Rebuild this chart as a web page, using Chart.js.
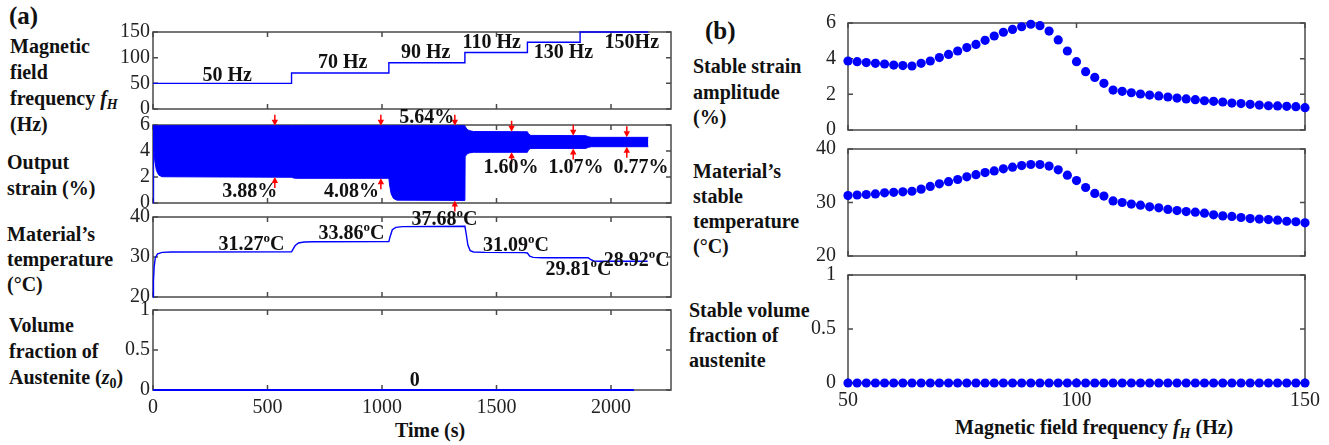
<!DOCTYPE html>
<html>
<head>
<meta charset="utf-8">
<script src="https://cdn.jsdelivr.net/npm/chart.js@4.4.1/dist/chart.umd.min.js"></script>
<style>
  body { margin: 0; background: #fff; width: 1329px; height: 445px; overflow: hidden; position: relative; font-family: "Liberation Serif", serif; }
  canvas { position: absolute; }
  .lbl { position: absolute; font-weight: bold; font-size: 20px; color: #111; white-space: nowrap; }
  .lbl sub { font-size: 14px; vertical-align: -0.3em; line-height: 0; }
</style>
</head>
<body>
<!-- panel (a) side labels -->
<div class="lbl" style="left:9px;top:1px;font-size:25px;line-height:30px">(a)</div>
<div class="lbl" style="left:10px;top:33px;line-height:26px">Magnetic<br>field<br>frequency <i>f</i><sub><i>H</i></sub><br>(Hz)</div>
<div class="lbl" style="left:7px;top:149px;line-height:26px">Output<br>strain (%)</div>
<div class="lbl" style="left:7px;top:222px;line-height:25px">Material’s<br>temperature<br>(°C)</div>
<div class="lbl" style="left:9px;top:312px;line-height:26px">Volume<br>fraction of<br>Austenite (<i>z</i><sub>0</sub>)</div>
<div class="lbl" style="left:395px;top:418px;line-height:24px">Time (s)</div>

<!-- panel (b) side labels -->
<div class="lbl" style="left:705px;top:16px;font-size:25px;line-height:30px">(b)</div>
<div class="lbl" style="left:693px;top:54px;line-height:25.5px">Stable strain<br>amplitude<br>(%)</div>
<div class="lbl" style="left:693px;top:159px;line-height:25px">Material’s<br>stable<br>temperature<br>(°C)</div>
<div class="lbl" style="left:689px;top:298px;line-height:25px">Stable volume<br>fraction of<br>austenite</div>
<div class="lbl" style="left:955px;top:415px;line-height:24px">Magnetic field frequency <i>f</i><sub><i>H</i></sub> (Hz)</div>

<canvas id="aFreq"></canvas>
<canvas id="aStrain"></canvas>
<canvas id="aTemp"></canvas>
<canvas id="aVol"></canvas>
<canvas id="bAmp"></canvas>
<canvas id="bTemp"></canvas>
<canvas id="bVol"></canvas>

<script>
/* (a) time histories */
const stageStart = [0, 605, 1030, 1362, 1635, 1865];
const stageFreq = [50, 70, 90, 110, 130, 150];
const runEnd = 2163;

const strainTime  = [0, 3, 8, 15, 25, 40, 605, 612, 625, 1030, 1033, 1040, 1050, 1065, 1362, 1363, 1370, 1380, 1400, 1635, 1640, 1650, 1890, 1900, 1915, 2163];
const strainUpper = [5.95, 5.95, 5.95, 5.95, 5.95, 5.95, 5.95, 5.95, 5.95, 5.95, 5.95, 5.95, 5.95, 5.95, 5.95, 5.9, 5.7, 5.57, 5.5, 5.48, 5.3, 5.2, 5.18, 5.1, 5.05, 5.05];
const strainLower = [0, 4.6, 3.2, 2.5, 2.15, 2.02, 1.98, 1.93, 1.9, 1.9, 1.4, 0.7, 0.35, 0.22, 0.2, 3.55, 3.75, 3.85, 3.9, 3.9, 4.1, 4.2, 4.2, 4.28, 4.33, 4.33];

const arrowTime   = [532, 995, 1318, 1566, 1835, 2069];
const arrowTop    = [5.95, 5.95, 5.95, 5.48, 5.18, 5.05];
const arrowBottom = [2.0, 1.9, 0.2, 3.9, 4.2, 4.33];

const tempTime  = [0, 2, 5, 10, 20, 40, 80, 605, 610, 620, 635, 660, 700, 1030, 1035, 1045, 1060, 1090, 1362, 1367, 1375, 1385, 1400, 1450, 1620, 1635, 1645, 1660, 1700, 1900, 1910, 1925, 1950, 2160];
const tempValue = [20, 24, 27.5, 29.8, 30.8, 31.15, 31.25, 31.27, 31.8, 32.8, 33.5, 33.75, 33.82, 33.86, 35, 36.8, 37.4, 37.6, 37.68, 36, 33, 31.6, 31.25, 31.15, 31.09, 31.0, 30.2, 29.9, 29.82, 29.81, 29.4, 29.0, 28.93, 28.92];

const volTime = [0, 2100];
const volFrac = [0, 0];

/* (b) stable values vs frequency */
const freqB = [50, 52, 54, 56, 58, 60, 62, 64, 66, 68, 70, 72, 74, 76, 78, 80, 82, 84, 86, 88, 90, 92, 94, 96, 98, 100,
  102, 104, 106, 108, 110, 112, 114, 116, 118, 120, 122, 124, 126, 128, 130, 132, 134, 136, 138, 140, 142, 144, 146, 148, 150];
const ampB = [3.87, 3.83, 3.78, 3.74, 3.70, 3.64, 3.61, 3.59, 3.74, 3.87, 4.06, 4.24, 4.43, 4.62, 4.80, 5.03, 5.27, 5.48, 5.64, 5.79,
  5.93, 5.85, 5.55, 5.05, 4.43, 3.83, 3.27, 2.95, 2.62, 2.24, 2.17, 2.09, 2.02, 1.96, 1.91, 1.85, 1.79, 1.74, 1.70, 1.64,
  1.61, 1.57, 1.51, 1.48, 1.44, 1.40, 1.36, 1.35, 1.33, 1.31, 1.25];
const tempB = [31.3, 31.4, 31.5, 31.6, 31.8, 31.9, 32.0, 32.1, 32.5, 33.0, 33.5, 33.9, 34.3, 34.8, 35.2, 35.6, 35.9, 36.3, 36.6, 36.9,
  37.1, 37.1, 36.8, 36.1, 35.1, 34.1, 32.8, 31.7, 31.2, 30.3, 30.0, 29.7, 29.5, 29.2, 29.0, 28.7, 28.5, 28.3, 28.2, 28.0,
  27.7, 27.5, 27.4, 27.2, 27.0, 26.9, 26.8, 26.7, 26.5, 26.4, 26.2];
const volB = [0, 0, 0, 0, 0, 0, 0, 0, 0, 0, 0, 0, 0, 0, 0, 0, 0, 0, 0, 0, 0, 0, 0, 0, 0, 0,
  0, 0, 0, 0, 0, 0, 0, 0, 0, 0, 0, 0, 0, 0, 0, 0, 0, 0, 0, 0, 0, 0, 0, 0, 0];

/* tick labels */
const timeTicks = [0, 500, 1000, 1500, 2000];
const freqAxisTicks = [0, 50, 100, 150];
const strainTicks = [0, 2, 4, 6];
const tempTicks = [20, 30, 40];
const volTicks = [0, 0.5, 1];
const freqBTicks = [50, 100, 150];

const BLUE = '#0000ff';
const FONT = '"Liberation Serif"';

const pts = (xs, ys) => xs.map((x, i) => ({x: x, y: ys[i]}));

function drawArrow(ctx, px, tip, dir) {
  const len = 11, head = 5, hw = 3.2;
  ctx.strokeStyle = ctx.fillStyle = '#ff0000';
  ctx.lineWidth = 1.5;
  ctx.beginPath();
  ctx.moveTo(px, tip - dir * len);
  ctx.lineTo(px, tip - dir * head);
  ctx.stroke();
  ctx.beginPath();
  ctx.moveTo(px, tip);
  ctx.lineTo(px - hw, tip - dir * (head + 1));
  ctx.lineTo(px + hw, tip - dir * (head + 1));
  ctx.closePath();
  ctx.fill();
}

// "31.27^oC" -> superscript o
function drawRich(ctx, text, cx, cy) {
  const parts = text.split('^');
  const segs = [{s: parts[0], sup: false}];
  for (let i = 1; i < parts.length; i++) {
    segs.push({s: parts[i][0], sup: true});
    segs.push({s: parts[i].slice(1), sup: false});
  }
  const big = 'bold 20px ' + FONT, small = 'bold 13px ' + FONT;
  let w = 0;
  segs.forEach(g => { ctx.font = g.sup ? small : big; g.w = ctx.measureText(g.s).width; w += g.w; });
  let x = cx - w / 2;
  ctx.textBaseline = 'middle';
  ctx.textAlign = 'left';
  ctx.fillStyle = '#111';
  segs.forEach(g => {
    ctx.font = g.sup ? small : big;
    ctx.fillText(g.s, x, g.sup ? cy - 6 : cy);
    x += g.w;
  });
}

function framePlugin(xTicks, yTicks, notes, arrows) {
  return {
    id: 'frame',
    beforeDatasetsDraw(chart) {
      const {ctx, chartArea: a, scales} = chart;
      ctx.save();
      ctx.strokeStyle = '#4a4a4a';
      ctx.lineWidth = 1.5;
      ctx.strokeRect(a.left, a.top, a.right - a.left, a.bottom - a.top);
      ctx.beginPath();
      xTicks.forEach(v => {
        const x = scales.x.getPixelForValue(v);
        ctx.moveTo(x, a.bottom); ctx.lineTo(x, a.bottom - 5);
        ctx.moveTo(x, a.top); ctx.lineTo(x, a.top + 5);
      });
      yTicks.forEach(v => {
        const y = scales.y.getPixelForValue(v);
        ctx.moveTo(a.left, y); ctx.lineTo(a.left + 5, y);
        ctx.moveTo(a.right, y); ctx.lineTo(a.right - 5, y);
      });
      ctx.stroke();
      ctx.restore();
    },
    afterDatasetsDraw(chart) {
      const {ctx, scales} = chart;
      ctx.save();
      if (arrows) {
        arrows.time.forEach((t, i) => {
          const px = scales.x.getPixelForValue(t);
          drawArrow(ctx, px, scales.y.getPixelForValue(arrows.top[i]), 1);
          drawArrow(ctx, px, scales.y.getPixelForValue(arrows.bottom[i]), -1);
        });
      }
      (notes || []).forEach(n => drawRich(ctx, n[0], scales.x.getPixelForValue(n[1]), scales.y.getPixelForValue(n[2])));
      ctx.restore();
    }
  };
}

function makeChart(id, box, o) {
  const canvas = document.getElementById(id);
  const padTop = 30, padRight = 30, padBottom = 30, yW = 45;
  const xH = o.showX ? 32 : 0;
  canvas.style.left = o.originX + 'px';
  canvas.style.top = (box.top - padTop) + 'px';
  canvas.width = box.right - o.originX + padRight;
  canvas.height = box.bottom - box.top + padTop + padBottom + xH;

  return new Chart(canvas.getContext('2d'), {
    type: 'line',
    data: {datasets: o.datasets},
    options: {
      responsive: false,
      animation: false,
      devicePixelRatio: 1,
      layout: {padding: {left: box.left - o.originX - yW, top: padTop, right: padRight, bottom: padBottom}},
      plugins: {legend: {display: false}, tooltip: {enabled: false}},
      scales: {
        x: {
          type: 'linear', min: o.xMin, max: o.xMax, display: o.showX,
          grid: {display: false, drawTicks: false}, border: {display: false},
          afterBuildTicks: s => { s.ticks = o.xTicks.map(v => ({value: v})); },
          afterFit: s => { s.height = xH; },
          ticks: {padding: 6, autoSkip: false, color: '#222', font: {family: FONT, size: 20}, maxRotation: 0, callback: v => String(v)}
        },
        y: {
          type: 'linear', min: o.yMin, max: o.yMax,
          grid: {display: false, drawTicks: false}, border: {display: false},
          afterBuildTicks: s => { s.ticks = o.yTicks.map(v => ({value: v})); },
          afterFit: s => { s.width = yW; },
          ticks: {padding: o.yPad, autoSkip: false, color: '#222', font: {family: FONT, size: 20}, callback: v => String(v)}
        }
      }
    },
    plugins: [framePlugin(o.xTicks, o.yTicks, o.notes, o.arrows)]
  });
}

const lineDs = (data, extra) => Object.assign({
  data: data, borderColor: BLUE, borderWidth: 1.4, pointRadius: 0, tension: 0, clip: false
}, extra || {});

/* ---- panel (a) ---- */
const aBox = (top, bottom) => ({left: 153, right: 671, top: top, bottom: bottom});
const aCommon = {originX: 0, xMin: 0, xMax: 2262, xTicks: timeTicks, yPad: 3};

makeChart('aFreq', aBox(32, 109), Object.assign({}, aCommon, {
  showX: false, yMin: 0, yMax: 150, yTicks: freqAxisTicks,
  datasets: [lineDs(pts(stageStart.concat([runEnd]), stageFreq.concat([stageFreq[stageFreq.length - 1]])), {stepped: 'before'})],
  notes: [['50 Hz', 324, 64], ['70 Hz', 828, 89], ['90 Hz', 1191, 110], ['110 Hz', 1479, 129], ['130 Hz', 1792, 110], ['150Hz', 2091, 128]]
}));

makeChart('aStrain', aBox(125, 203), Object.assign({}, aCommon, {
  showX: false, yMin: 0, yMax: 6, yTicks: strainTicks,
  datasets: [
    lineDs(pts(strainTime, strainUpper), {fill: '+1', backgroundColor: BLUE, borderWidth: 1}),
    lineDs(pts(strainTime, strainLower), {borderWidth: 1})
  ],
  arrows: {time: arrowTime, top: arrowTop, bottom: arrowBottom},
  notes: [['3.88%', 422, 0.87], ['4.08%', 867, 0.87], ['5.64%', 1195, 6.59], ['1.60%', 1563, 2.67], ['1.07%', 1847, 2.67], ['0.77%', 2131, 2.67]]
}));

makeChart('aTemp', aBox(217, 297), Object.assign({}, aCommon, {
  showX: false, yMin: 20, yMax: 40, yTicks: tempTicks,
  datasets: [lineDs(pts(tempTime, tempValue))],
  notes: [['31.27^oC', 430, 33.0], ['33.86^oC', 867, 35.9], ['37.68^oC', 1273, 39.25], ['31.09^oC', 1585, 32.75], ['29.81^oC', 1858, 26.75], ['28.92^oC', 2112, 29.0]]
}));

makeChart('aVol', aBox(310, 390), Object.assign({}, aCommon, {
  showX: true, yMin: 0, yMax: 1, yTicks: volTicks,
  datasets: [lineDs(pts(volTime, volFrac), {borderWidth: 2})],
  notes: [['0', 1143, 0.12]]
}));

/* ---- panel (b) ---- */
const bBox = (top, bottom) => ({left: 848, right: 1305, top: top, bottom: bottom});
const bCommon = {originX: 680, xMin: 50, xMax: 150, xTicks: freqBTicks, yPad: 12};
const dotDs = data => ({
  data: data, showLine: false, pointRadius: 4.6, pointBorderWidth: 0,
  pointBackgroundColor: BLUE, borderColor: BLUE, clip: false
});

makeChart('bAmp', bBox(23, 130), Object.assign({}, bCommon, {
  showX: false, yMin: 0, yMax: 6, yTicks: strainTicks,
  datasets: [dotDs(pts(freqB, ampB))]
}));

makeChart('bTemp', bBox(149, 256), Object.assign({}, bCommon, {
  showX: false, yMin: 20, yMax: 40, yTicks: tempTicks,
  datasets: [dotDs(pts(freqB, tempB))]
}));

makeChart('bVol', bBox(275, 383), Object.assign({}, bCommon, {
  showX: true, yMin: 0, yMax: 1, yTicks: volTicks,
  datasets: [dotDs(pts(freqB, volB))]
}));
</script>
</body>
</html>
